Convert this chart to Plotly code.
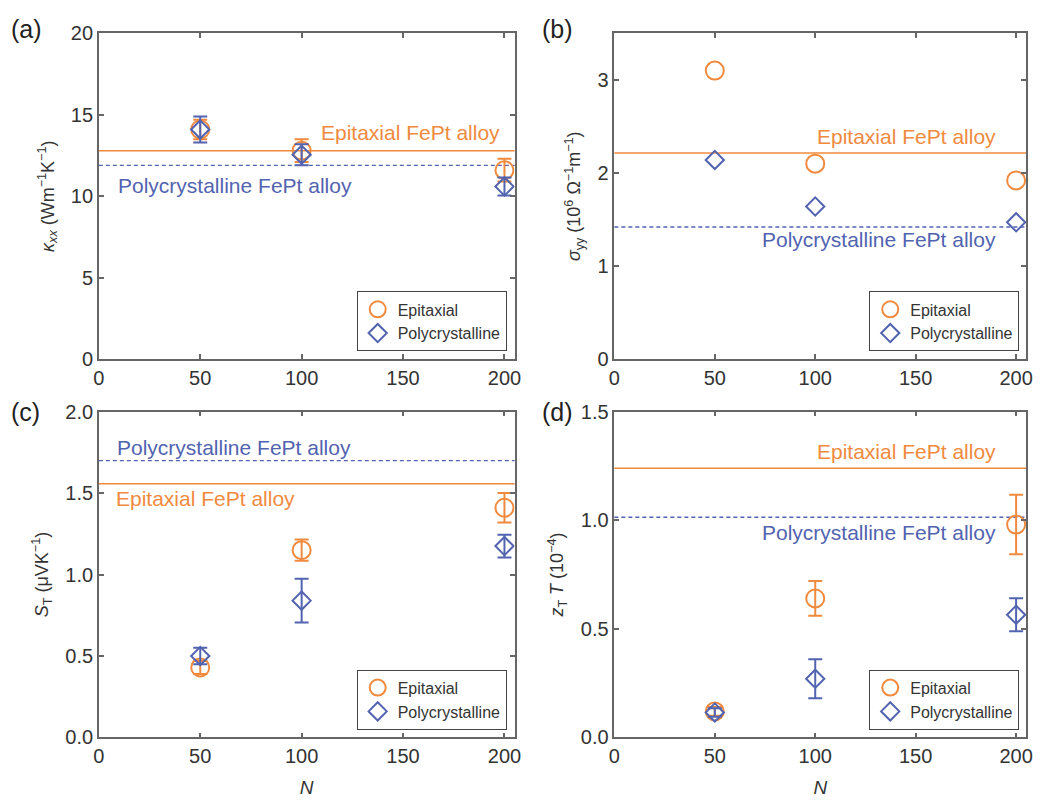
import plotly.graph_objects as go

N = [50, 100, 200]

# (a) thermal conductivity
kappa_epi = [14.1, 12.8, 11.6]
kappa_epi_err = [0.6, 0.7, 0.7]
kappa_poly = [14.1, 12.55, 10.6]
kappa_poly_err = [0.8, 0.65, 0.55]
kappa_epi_alloy = 12.8
kappa_poly_alloy = 11.9

# (b) electrical conductivity
sigma_epi = [3.10, 2.10, 1.92]
sigma_poly = [2.14, 1.64, 1.47]
sigma_epi_alloy = 2.215
sigma_poly_alloy = 1.42

# (c) transverse thermopower
st_epi = [0.43, 1.15, 1.41]
st_epi_err = [0.04, 0.065, 0.09]
st_poly = [0.50, 0.84, 1.175]
st_poly_err = [0.05, 0.135, 0.07]
st_epi_alloy = 1.557
st_poly_alloy = 1.699

# (d) figure of merit
zt_epi = [0.12, 0.64, 0.98]
zt_epi_err = [0.02, 0.08, 0.137]
zt_poly = [0.115, 0.27, 0.565]
zt_poly_err = [0.02, 0.09, 0.076]
zt_epi_alloy = 1.24
zt_poly_alloy = 1.014

ORANGE = "#F08A3E"
BLUE = "#5263B0"
AX = "#666666"
TXT = "#333333"
FONT = "Liberation Sans, Arial, sans-serif"

W, H = 1046, 800
def dx(a, b): return [a / W, b / W]
def dy(top, bot): return [1 - bot / H, 1 - top / H]

panels = [
    dict(xd=dx(94, 515), yd=dy(23, 358), yr=[0, 20], yt=[0, 5, 10, 15, 20], fmt="",
         epi=kappa_epi, epie=kappa_epi_err, poly=kappa_poly, polye=kappa_poly_err,
         ea=kappa_epi_alloy, pa=kappa_poly_alloy,
         title="<i>κ<sub>xx</sub></i> (Wm<sup>−1</sup>K<sup>−1</sup>)", label="(a)",
         lbl_xy=(3, 18), leg=(507, 350),
         ann=[("Epitaxial FePt alloy", ORANGE, 199, 13.9, "right"),
              ("Polycrystalline FePt alloy", BLUE, 8.4, 10.63, "left")]),
    dict(xd=dx(616, 1033), yd=dy(23, 358), yr=[0, 3.5], yt=[0, 1, 2, 3], fmt="",
         epi=sigma_epi, epie=None, poly=sigma_poly, polye=None,
         ea=sigma_epi_alloy, pa=sigma_poly_alloy,
         title="<i>σ</i><sub>yy</sub> (10<sup>6</sup> Ω<sup>−1</sup>m<sup>−1</sup>)", label="(b)",
         lbl_xy=(541, 18), leg=(1026, 350),
         ann=[("Epitaxial FePt alloy", ORANGE, 191, 2.39, "right"),
              ("Polycrystalline FePt alloy", BLUE, 191, 1.285, "right")]),
    dict(xd=dx(94, 515), yd=dy(412, 747), yr=[0, 2.0], yt=[0, 0.5, 1.0, 1.5, 2.0], fmt=".1f",
         epi=st_epi, epie=st_epi_err, poly=st_poly, polye=st_poly_err,
         ea=st_epi_alloy, pa=st_poly_alloy,
         title="<i>S</i><sub>T</sub> (μVK<sup>−1</sup>)", label="(c)",
         lbl_xy=(3, 412), leg=(507, 739),
         ann=[("Polycrystalline FePt alloy", BLUE, 7.8, 1.78, "left"),
              ("Epitaxial FePt alloy", ORANGE, 7.3, 1.465, "left")]),
    dict(xd=dx(616, 1033), yd=dy(412, 747), yr=[0, 1.5], yt=[0, 0.5, 1.0, 1.5], fmt=".1f",
         epi=zt_epi, epie=zt_epi_err, poly=zt_poly, polye=zt_poly_err,
         ea=zt_epi_alloy, pa=zt_poly_alloy,
         title="<i>z</i><sub>T</sub> <i>T</i> (10<sup>−4</sup>)", label="(d)",
         lbl_xy=(541, 412), leg=(1026, 739),
         ann=[("Epitaxial FePt alloy", ORANGE, 191, 1.318, "right"),
              ("Polycrystalline FePt alloy", BLUE, 191, 0.945, "right")]),
]

fig = go.Figure()
layout = dict(width=W, height=H, margin=dict(l=0, r=0, t=0, b=0),
              paper_bgcolor="white", plot_bgcolor="white",
              font=dict(family=FONT, color=TXT), showlegend=True)
annotations = []
shapes = []

for i, p in enumerate(panels):
    k = "" if i == 0 else str(i + 1)
    xa, ya = "x" + k, "y" + k
    leg = "legend" + k
    def eb(err, col):
        if err is None:
            return None
        return dict(type="data", array=err, visible=True, color=col, thickness=2, width=7)
    fig.add_trace(go.Scatter(x=N, y=p["epi"], mode="markers", name="Epitaxial",
                             marker=dict(symbol="circle-open", size=18, color=ORANGE,
                                         line=dict(width=2, color=ORANGE)),
                             error_y=eb(p["epie"], ORANGE), xaxis=xa, yaxis=ya, legend=leg))
    fig.add_trace(go.Scatter(x=N, y=p["poly"], mode="markers", name="Polycrystalline",
                             marker=dict(symbol="diamond-open", size=14, color=BLUE,
                                         line=dict(width=2, color=BLUE)),
                             error_y=eb(p["polye"], BLUE), xaxis=xa, yaxis=ya, legend=leg))
    axis_common = dict(showline=True, linecolor=AX, linewidth=1.5, mirror="ticks",
                       ticks="inside", ticklen=5, tickwidth=1.5, tickcolor=AX,
                       showgrid=False, zeroline=False,
                       tickfont=dict(size=20, color=TXT, family=FONT))
    layout["xaxis" + k] = dict(domain=p["xd"], range=[0, 205], tickvals=[0, 50, 100, 150, 200],
                               anchor=ya, **axis_common)
    if i >= 2:
        layout["xaxis" + k]["title"] = dict(text="<i>N</i>", font=dict(size=19, color=TXT), standoff=14)
    layout["yaxis" + k] = dict(domain=p["yd"], range=p["yr"], tickvals=p["yt"], tickformat=p["fmt"],
                               anchor=xa, title=dict(text=p["title"], font=dict(size=18, color=TXT), standoff=12),
                               **axis_common)
    layout[leg] = dict(x=p["leg"][0] / W, y=1 - p["leg"][1] / H, xanchor="right", yanchor="bottom",
                       xref="paper", yref="paper",
                       bordercolor="#444444", borderwidth=1, bgcolor="white",
                       font=dict(size=16, color=TXT, family=FONT), tracegroupgap=0,
                       itemwidth=30)
    shapes.append(dict(type="line", xref=xa + " domain", yref=ya, x0=0, x1=1, y0=p["ea"], y1=p["ea"],
                       line=dict(color=ORANGE, width=1.5), layer="below"))
    shapes.append(dict(type="line", xref=xa + " domain", yref=ya, x0=0, x1=1, y0=p["pa"], y1=p["pa"],
                       line=dict(color=BLUE, width=1.3, dash="4px,3px"), layer="below"))
    for (t, c, x, y, anc) in p["ann"]:
        annotations.append(dict(text=t, x=x, y=y, xref=xa, yref=ya, xanchor=anc, yanchor="middle",
                                showarrow=False, font=dict(size=21, color=c, family=FONT)))
    annotations.append(dict(text=p["label"], x=p["lbl_xy"][0] / W, y=1 - p["lbl_xy"][1] / H,
                            xref="paper", yref="paper", xanchor="left", yanchor="middle",
                            showarrow=False, font=dict(size=25, color="#222222", family=FONT)))

layout["annotations"] = annotations
layout["shapes"] = shapes
fig.update_layout(**layout)
fig.write_html("out.html")
